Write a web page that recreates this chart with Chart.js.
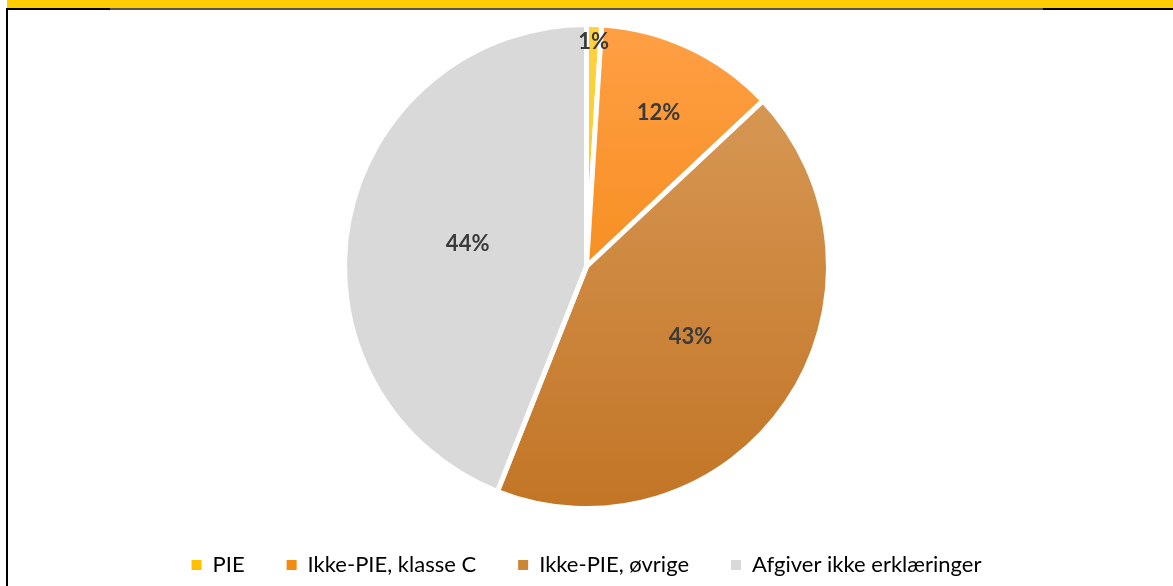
<!DOCTYPE html>
<html>
<head>
<meta charset="utf-8">
<script src="https://cdn.jsdelivr.net/npm/chart.js"></script>
<style>
  html, body { margin: 0; padding: 0; background: #fff; }
  body { width: 1173px; height: 586px; position: relative; overflow: hidden; font-family: Lato, sans-serif; }
  #topbar { position: absolute; left: 7px; top: 0; width: 1166px; height: 8px; background: #FFCC00; }
  #line1 { position: absolute; left: 6px; top: 8px; width: 104px; height: 2px; background: #000; }
  #line2 { position: absolute; left: 110px; top: 8px; width: 933px; height: 2px; background: #555; }
  #line3 { position: absolute; left: 1043px; top: 8px; width: 130px; height: 2px; background: #000; }
  #leftline { position: absolute; left: 6px; top: 8px; width: 2px; height: 578px; background: #000; }
  #wrap { position: absolute; left: 0; top: 21px; width: 1173px; height: 565px; }
</style>
</head>
<body>
<div id="topbar"></div>
<div id="line1"></div><div id="line2"></div><div id="line3"></div>
<div id="leftline"></div>
<div id="wrap"><canvas id="pie"></canvas></div>
<script>
const categories = ['PIE', 'Ikke-PIE, klasse C', 'Ikke-PIE, øvrige', 'Afgiver ikke erklæringer'];
const shares = [1, 12, 43, 44];
const shareLabels = ['1%', '12%', '43%', '44%'];

// top / bottom gradient colours per slice
const colorTop = ['#FFD23F', '#FF9F45', '#DA9D5C', '#D9D9D9'];
const colorBottom = ['#F5BE00', '#EE8000', '#C27525', '#D9D9D9'];
const legendColors = ['#FFC000', '#F58A10', '#CD8636', '#D9D9D9'];
// where each label sits, as a fraction of the radius
const labelRadius = [0.93, 0.7, 0.52, 0.5];

const R = 242;

function sliceFill(ctx) {
  const i = ctx.dataIndex;
  const chart = ctx.chart;
  if (!chart.chartArea) return colorTop[i];
  const cy = (chart.chartArea.top + chart.chartArea.bottom) / 2;
  const g = chart.ctx.createLinearGradient(0, cy - R, 0, cy + R);
  g.addColorStop(0, colorTop[i]);
  g.addColorStop(1, colorBottom[i]);
  return g;
}

const pieLabels = {
  id: 'pieLabels',
  afterDatasetsDraw(chart) {
    const c = chart.ctx;
    const meta = chart.getDatasetMeta(0);
    c.save();
    c.font = 'bold 22px Lato';
    c.fillStyle = '#3a3a3a';
    c.textAlign = 'center';
    c.textBaseline = 'middle';
    meta.data.forEach((arc, i) => {
      const p = arc.getProps(['x', 'y', 'startAngle', 'endAngle', 'outerRadius']);
      const mid = (p.startAngle + p.endAngle) / 2;
      const r = p.outerRadius * labelRadius[i];
      c.fillText(shareLabels[i], p.x + Math.cos(mid) * r, p.y + Math.sin(mid) * r);
    });
    c.restore();
  }
};

new Chart(document.getElementById('pie'), {
  type: 'pie',
  data: {
    labels: categories,
    datasets: [{
      data: shares,
      backgroundColor: sliceFill,
      borderColor: '#ffffff',
      borderWidth: 5
    }]
  },
  options: {
    responsive: true,
    maintainAspectRatio: false,
    animation: false,
    radius: R,
    layout: { padding: { top: 0, bottom: 0 } },
    plugins: {
      tooltip: { enabled: false },
      legend: {
        position: 'bottom',
        labels: {
          boxWidth: 10,
          boxHeight: 10,
          padding: 42,
          color: '#595959',
          font: { family: 'Lato', size: 22 },
          generateLabels(chart) {
            return categories.map((name, i) => ({
              text: name,
              fillStyle: legendColors[i],
              strokeStyle: legendColors[i],
              lineWidth: 0,
              hidden: false,
              index: i
            }));
          }
        }
      }
    }
  },
  plugins: [pieLabels]
});
</script>
</body>
</html>
